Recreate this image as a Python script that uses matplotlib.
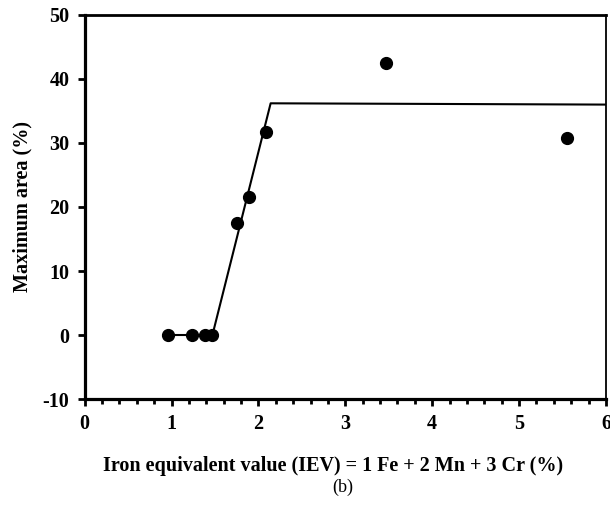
import matplotlib.pyplot as plt
from matplotlib.ticker import MultipleLocator

plt.rcParams['font.family'] = ['Liberation Serif', 'DejaVu Serif']
plt.rcParams['axes.unicode_minus'] = False

# measured points
iev = [0.96, 1.24, 1.39, 1.46, 1.75, 1.89, 2.09, 3.47, 5.55]
max_area = [0.0, 0.0, 0.0, 0.0, 17.5, 21.6, 31.7, 42.5, 30.8]

# fitted piecewise line
fit_x = [0.96, 1.47, 2.14, 6.0]
fit_y = [0.0, 0.0, 36.2, 36.0]

xticks = [0, 1, 2, 3, 4, 5, 6]
yticks = [-10, 0, 10, 20, 30, 40, 50]

fig = plt.figure(figsize=(6.1, 5.13), dpi=100)
ax = fig.add_axes([0.1389, 0.2222, 0.8545, 0.7486])

ax.plot(fit_x, fit_y, color='black', linewidth=1.5, zorder=2)
ax.plot(iev, max_area, 'o', color='black', markersize=8.5, zorder=3)

ax.set_xlim(0, 6)
ax.set_ylim(-10, 50)
ax.set_xticks(xticks)
ax.set_yticks(yticks)
ax.xaxis.set_minor_locator(MultipleLocator(0.2))

ax.tick_params(axis='both', which='major', direction='out', length=5, width=2,
               labelsize=14.5, pad=6)
ax.tick_params(axis='x', which='minor', direction='out', length=3.5, width=2)
for lab in ax.get_xticklabels() + ax.get_yticklabels():
    lab.set_fontweight('bold')

ax.spines['left'].set_linewidth(2.3)
ax.spines['bottom'].set_linewidth(2.3)
ax.spines['top'].set_linewidth(2.0)
ax.spines['right'].set_linewidth(1.3)

ax.set_xlabel('Iron equivalent value (IEV) = 1 Fe + 2 Mn + 3 Cr (%)',
              fontsize=14.5, fontweight='bold')
ax.xaxis.set_label_coords(0.476, -0.148)
ax.set_ylabel('Maximum area (%)', fontsize=14.5, fontweight='bold', labelpad=7)

fig.text(0.562, 0.05, '(b)', ha='center', va='center', fontsize=13)

fig.savefig('out.png', dpi=100)
